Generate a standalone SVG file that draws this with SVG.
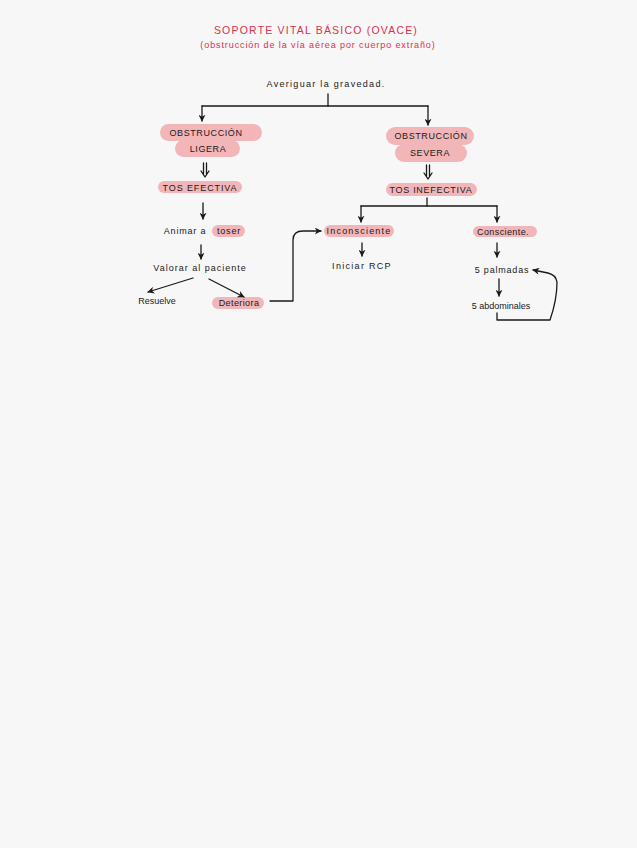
<svg xmlns="http://www.w3.org/2000/svg" width="637" height="848" viewBox="0 0 637 848">
<defs>
<style>
.t{font-family:"Liberation Sans",Arial,sans-serif;font-size:9px;fill:#1a1a1a;text-anchor:middle}
.tc{font-family:"Liberation Sans",Arial,sans-serif;font-size:9px;fill:#1a1a1a;letter-spacing:0.6px;text-anchor:middle}
.r{font-family:"Liberation Sans",Arial,sans-serif;fill:#dc2f4c;text-anchor:middle}
.h{fill:#f2b6b9}
.c{fill:none;stroke:#1a1a1a;stroke-width:1.3;stroke-linecap:round;stroke-linejoin:round}
</style>
<marker id="a" viewBox="0 0 10 10" refX="9" refY="5" markerWidth="7" markerHeight="7" orient="auto-start-reverse" markerUnits="userSpaceOnUse">
<path d="M0,0 L10,5 L0,10 L3,5 Z" fill="#1a1a1a"/>
</marker>
</defs>
<rect width="637" height="848" fill="#f7f7f7"/>
<g id="title">
<text class="r" x="316" y="34" font-size="10.5" letter-spacing="1.2">SOPORTE VITAL BÁSICO (OVACE)</text>
<text class="r" x="318" y="48" font-size="9" letter-spacing="0.9">(obstrucción de la vía aérea por cuerpo extraño)</text>
</g>
<g id="n-averiguar"><text class="t" x="326" y="87" font-size="10.5" letter-spacing="1.3">Averiguar la gravedad.</text></g>
<g id="n-obs-ligera">
<rect class="h" x="160" y="124" width="102" height="17" rx="8.5"/>
<rect class="h" x="175" y="140" width="65" height="17" rx="8.5"/>
<text class="tc" x="206" y="136">OBSTRUCCIÓN</text>
<text class="tc" x="208" y="152">LIGERA</text>
</g>
<g id="n-obs-severa">
<rect class="h" x="386" y="127" width="88" height="18" rx="9"/>
<rect class="h" x="395" y="144" width="72" height="18" rx="9"/>
<text class="tc" x="431" y="139">OBSTRUCCIÓN</text>
<text class="tc" x="430" y="156">SEVERA</text>
</g>
<g id="n-tos-efectiva">
<rect class="h" x="158" y="181" width="84" height="12" rx="6"/>
<text class="t" x="200" y="190.5" font-size="8.5" letter-spacing="0.9">TOS EFECTIVA</text>
</g>
<g id="n-tos-inefectiva">
<rect class="h" x="386" y="183" width="91" height="13" rx="6.5"/>
<text class="t" x="431" y="192.5" font-size="8.5" letter-spacing="0.7">TOS INEFECTIVA</text>
</g>
<g id="n-animar">
<rect class="h" x="212" y="225" width="33" height="12" rx="6"/>
<text class="t" x="201" y="234" font-size="8.5" letter-spacing="0.8"><tspan x="185">Animar a</tspan><tspan x="229">toser</tspan></text>
</g>
<g id="n-valorar"><text class="t" x="200" y="271" font-size="8.5" letter-spacing="1">Valorar al paciente</text></g>
<g id="n-resuelve"><text class="t" x="157" y="304" font-size="8">Resuelve</text></g>
<g id="n-deteriora">
<rect class="h" x="212" y="297" width="52" height="12" rx="6"/>
<text class="t" x="239" y="306" font-size="8" letter-spacing="0.4">Deteriora</text>
</g>
<g id="n-inconsciente">
<rect class="h" x="324" y="225" width="70" height="12" rx="6"/>
<text class="t" x="359" y="234" font-size="8.5" letter-spacing="1.2">Inconsciente</text>
</g>
<g id="n-rcp"><text class="t" x="362" y="269" font-size="8" letter-spacing="1.3">Iniciar RCP</text></g>
<g id="n-consciente">
<rect class="h" x="473" y="226" width="64" height="11" rx="5.5"/>
<text class="t" x="503" y="234.5" font-size="8.5" letter-spacing="0.4">Consciente.</text>
</g>
<g id="n-palmadas"><text class="t" x="502" y="273" font-size="8" letter-spacing="0.8">5 palmadas</text></g>
<g id="n-abdominales"><text class="t" x="501" y="309" font-size="8">5 abdominales</text></g>
<g id="connectors">
<path class="c" d="M328,94 V106"/>
<path class="c" d="M202,106 H428"/>
<path class="c" d="M202,106 V121" marker-end="url(#a)"/>
<path class="c" d="M428,106 V125" marker-end="url(#a)"/>
<path class="c" d="M203.5,163 V174 M206.5,163 V174 M201,171 L205,177 L209,171"/>
<path class="c" d="M426.5,165 V176 M429.5,165 V176 M424,173 L428,179 L432,173"/>
<path class="c" d="M203,203 V219" marker-end="url(#a)"/>
<path class="c" d="M201,245 V259" marker-end="url(#a)"/>
<path class="c" d="M193,278 L148,292" marker-end="url(#a)"/>
<path class="c" d="M209,279 L244,297" marker-end="url(#a)"/>
<path class="c" d="M270,301 H293 V240 Q293,231 303,231 H321" marker-end="url(#a)"/>
<path class="c" d="M427,198 V206"/>
<path class="c" d="M361,206 H497"/>
<path class="c" d="M361,206 V222" marker-end="url(#a)"/>
<path class="c" d="M497,206 V222" marker-end="url(#a)"/>
<path class="c" d="M362,243 V256" marker-end="url(#a)"/>
<path class="c" d="M497,243 V257" marker-end="url(#a)"/>
<path class="c" d="M499,279 V296" marker-end="url(#a)"/>
<path class="c" d="M497,313 V320 H550 Q557,300 557,282 Q556,275 548,273 L533,270" marker-end="url(#a)"/>
</g>
</svg>
